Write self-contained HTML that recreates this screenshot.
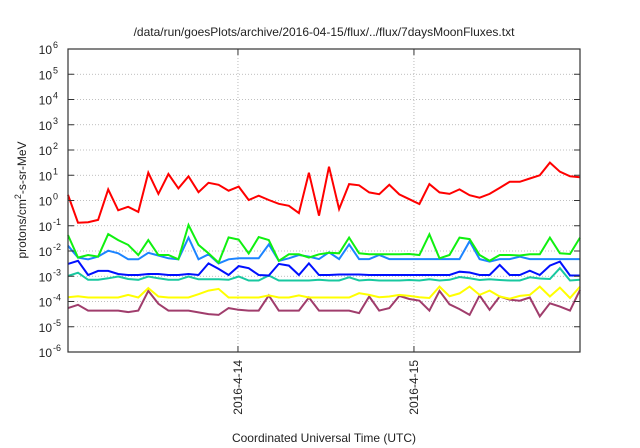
<!DOCTYPE html>
<html><head><meta charset="utf-8"><style>
html,body{margin:0;padding:0;background:#fff;}
svg{display:block;font-family:"Liberation Sans",sans-serif;}
</style></head><body>
<svg id="chart" width="640" height="448" viewBox="0 0 640 448" xmlns="http://www.w3.org/2000/svg">
<text x="324" y="36" font-size="12" text-anchor="middle" fill="#222">/data/run/goesPlots/archive/2016-04-15/flux/../flux/7daysMoonFluxes.txt</text>
<g id="grid"></g>
<g id="series"></g>
<g id="axes"></g>
<text x="324" y="442" font-size="12" text-anchor="middle" fill="#222">Coordinated Universal Time (UTC)</text>
<text transform="translate(26,200) rotate(-90)" font-size="12" text-anchor="middle" fill="#222">protons/cm<tspan dy="-5" font-size="9">2</tspan><tspan dy="5">-s-sr-MeV</tspan></text>
</svg>
<script>
const yTickExps=[-6,-5,-4,-3,-2,-1,0,1,2,3,4,5,6];
const xTickLabels=["2016-4-14","2016-4-15"];
const xTickIdx=[16.93,34.46];
const redExp=[0.22,-0.88,-0.86,-0.77,0.44,-0.39,-0.25,-0.45,1.10,0.26,1.05,0.48,0.96,0.33,0.70,0.62,0.39,0.55,0.02,0.19,0.02,-0.13,-0.21,-0.50,1.10,-0.6,1.34,-0.34,0.65,0.60,0.32,0.25,0.62,0.24,0.05,-0.14,0.65,0.32,0.26,0.44,0.21,0.11,0.26,0.50,0.74,0.74,0.87,1.00,1.50,1.14,0.96,0.92];
const greenExp=[-1.37,-2.26,-2.16,-2.22,-1.33,-1.57,-1.76,-2.16,-1.57,-2.16,-2.16,-2.33,-0.97,-1.76,-2.09,-2.46,-1.46,-1.55,-2.1,-1.45,-1.57,-2.39,-2.13,-2.13,-2.26,-2.13,-2.07,-2.09,-1.47,-2.09,-2.13,-2.13,-2.13,-2.13,-2.12,-2.16,-1.34,-2.29,-2.16,-1.47,-1.53,-2.16,-2.39,-2.16,-2.16,-2.18,-2.13,-2.13,-1.47,-2.09,-2.12,-1.47];
const skyExp=[-1.79,-2.26,-2.33,-2.22,-1.99,-2.09,-2.33,-2.33,-2.07,-2.18,-2.29,-2.33,-1.47,-2.33,-2.13,-2.49,-2.33,-2.29,-2.29,-2.29,-1.74,-2.39,-2.29,-2.16,-2.22,-2.32,-2.05,-2.32,-1.74,-2.32,-2.32,-2.16,-2.32,-2.32,-2.32,-2.32,-2.32,-2.32,-2.32,-2.32,-1.61,-2.32,-2.42,-2.32,-2.32,-2.22,-2.32,-2.32,-2.32,-2.32,-2.32,-2.32];
const blueExp=[-2.51,-2.39,-2.95,-2.79,-2.79,-2.91,-2.95,-2.95,-2.91,-2.91,-2.95,-2.95,-2.91,-2.95,-2.49,-2.71,-2.95,-2.6,-2.68,-2.95,-2.97,-2.51,-2.58,-2.95,-2.49,-2.95,-2.95,-2.93,-2.93,-2.93,-2.95,-2.95,-2.95,-2.95,-2.95,-2.95,-2.95,-2.95,-2.95,-2.82,-2.85,-2.95,-2.95,-2.55,-2.95,-2.95,-2.78,-2.95,-2.58,-2.42,-2.97,-2.97];
const tealExp=[-2.99,-2.86,-3.14,-3.14,-3.08,-3.01,-3.11,-3.14,-3.01,-3.08,-3.14,-3.14,-3.01,-3.12,-3.12,-3.12,-3.14,-3.01,-3.17,-3.17,-2.97,-3.17,-3.17,-3.17,-3.17,-3.14,-3.17,-3.17,-3.04,-3.17,-3.14,-3.17,-3.17,-3.17,-3.15,-3.17,-3.12,-3.17,-3.14,-3.03,-3.08,-3.15,-3.12,-3.15,-3.17,-3.17,-3.04,-3.09,-3.11,-2.68,-3.17,-3.14];
const yellowExp=[-3.83,-3.79,-3.84,-3.84,-3.84,-3.84,-3.74,-3.84,-3.47,-3.80,-3.84,-3.84,-3.84,-3.71,-3.57,-3.50,-3.84,-3.84,-3.84,-3.84,-3.76,-3.84,-3.84,-3.76,-3.84,-3.84,-3.84,-3.84,-3.84,-3.67,-3.74,-3.83,-3.80,-3.74,-3.78,-3.83,-3.86,-3.41,-3.79,-3.68,-3.41,-3.74,-3.57,-3.80,-3.89,-3.78,-3.74,-3.41,-3.80,-3.45,-3.86,-3.41];
const purpleExp=[-4.26,-4.13,-4.36,-4.36,-4.36,-4.36,-4.42,-4.36,-3.58,-4.09,-4.36,-4.36,-4.36,-4.43,-4.50,-4.53,-4.26,-4.33,-4.36,-4.36,-3.76,-4.36,-4.36,-4.36,-3.84,-4.36,-4.36,-4.36,-4.36,-4.46,-3.80,-4.36,-4.26,-3.78,-3.9,-3.97,-4.36,-3.58,-4.11,-4.30,-4.53,-3.76,-4.33,-3.80,-3.93,-3.97,-3.84,-4.59,-4.07,-4.20,-4.36,-3.54];
const seriesList=[
 {name:"series-purple",color:"#a03d6c",data:purpleExp},
 {name:"series-yellow",color:"#ffff00",data:yellowExp},
 {name:"series-teal",color:"#18c8a0",data:tealExp},
 {name:"series-blue",color:"#0010ff",data:blueExp},
 {name:"series-skyblue",color:"#1c84ff",data:skyExp},
 {name:"series-green",color:"#10f010",data:greenExp},
 {name:"series-red",color:"#ff0000",data:redExp}
];
const L=68,R=580,T=49,B=352;
const NS="http://www.w3.org/2000/svg";
const nPts=redExp.length;
function xScale(i){return L+(R-L)*i/(nPts-1);}
function yScale(e){return T+(B-T)*(6-e)/12;}
function mk(tag,attrs,parent){const el=document.createElementNS(NS,tag);for(const k in attrs)el.setAttribute(k,attrs[k]);parent.appendChild(el);return el;}
const grid=document.getElementById('grid'),axes=document.getElementById('axes'),ser=document.getElementById('series');
yTickExps.forEach(e=>{
 const y=yScale(e);
 if(e>-6&&e<6){const g=mk('line',{x1:L,x2:R,y1:y,y2:y,stroke:'#aaa','stroke-width':0.8,'stroke-dasharray':'1,2'},grid);
 
 }
 const t1=mk('line',{x1:L,x2:L+6,y1:y,y2:y,stroke:'#333','stroke-width':1},axes);
 
 
 const t2=mk('line',{x1:R-6,x2:R,y1:y,y2:y,stroke:'#333','stroke-width':1},axes);
 
 
 const tx=mk('text',{x:L-16,y:y+5,'font-size':12,'text-anchor':'end',fill:'#222'},axes);
 
 
 tx.textContent='10';
 const sp=mk('tspan',{dy:-6,'font-size':9,x:L-15,'text-anchor':'start'},tx);
 sp.textContent=String(e);
});
xTickLabels.forEach((lab,k)=>{
 const x=xScale(xTickIdx[k]);
 const g=mk('line',{x1:x,x2:x,y1:T,y2:B,stroke:'#aaa','stroke-width':0.8,'stroke-dasharray':'1,2'},grid);
 
 
 const t1=mk('line',{x1:x,x2:x,y1:B-6,y2:B,stroke:'#333'},axes);
 
 
 const t2=mk('line',{x1:x,x2:x,y1:T,y2:T+6,stroke:'#333'},axes);
 
 
 const tx=mk('text',{transform:`translate(${x+4},${B+8}) rotate(-90)`,'font-size':12,'text-anchor':'end',fill:'#222'},axes);
 
 
 tx.textContent=lab;
});
const frame=mk('rect',{x:L,y:T,width:R-L,height:B-T,fill:'none',stroke:'#333','stroke-width':1.2},axes);


seriesList.forEach(s=>{
 const pts=s.data.map((v,i)=>xScale(i).toFixed(1)+','+yScale(v).toFixed(1)).join(' ');
 const p=mk('polyline',{points:pts,fill:'none',stroke:s.color,'stroke-width':2,'stroke-linejoin':'miter'},ser);
 
 
});
</script>
</body></html>
